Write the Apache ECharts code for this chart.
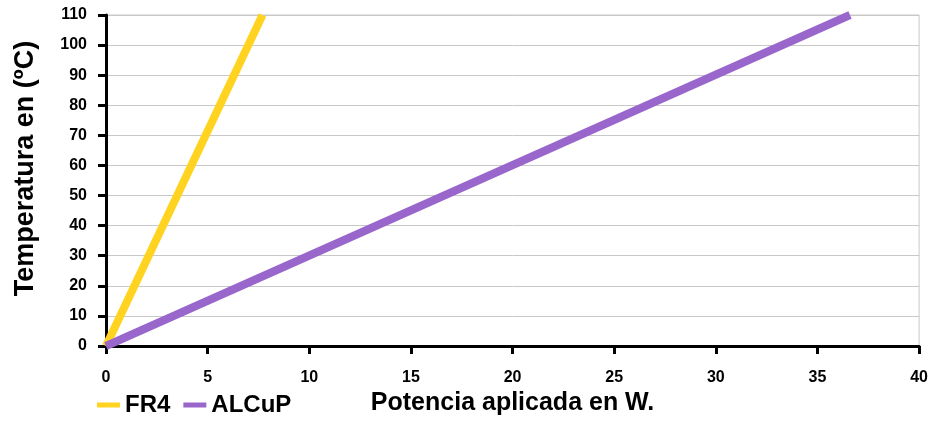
<!DOCTYPE html>
<html>
<head>
<meta charset="utf-8">
<script src="https://cdn.jsdelivr.net/npm/echarts@6/dist/echarts.min.js"></script>
<style>
html,body{margin:0;padding:0;background:#fff;}
#c{width:931px;height:424px;}
</style>
</head>
<body>
<div id="c"></div>
<script>
const seriesNames = ["FR4", "ALCuP"];
const fr4Data = [[0, 0], [7.7, 110]];
const alcupData = [[0, 0], [36.6, 110]];
const xTicks = [0, 5, 10, 15, 20, 25, 30, 35, 40];
const yTicks = [0, 10, 20, 30, 40, 50, 60, 70, 80, 90, 100, 110];
const xTitle = "Potencia aplicada en W.";
const yTitle = "Temperatura en (ºC)";

const FONT = "'Liberation Sans', Arial, sans-serif";
const chart = echarts.init(document.getElementById('c'), null, {renderer: 'canvas'});
chart.setOption({
  animation: false,
  backgroundColor: '#ffffff',
  textStyle: {fontFamily: FONT},
  grid: {left: 106, right: 9, top: 15, bottom: 78, show: true, borderColor: '#c8c8c8', borderWidth: 1},
  legend: {
    left: 92, top: 388,
    icon: 'rect', itemWidth: 23, itemHeight: 5, itemGap: 13,
    textStyle: {fontFamily: FONT, fontWeight: 'bold', fontSize: 24, color: '#000'},
    data: seriesNames
  },
  xAxis: {
    type: 'value', min: xTicks[0], max: xTicks[xTicks.length - 1], interval: 5,
    name: xTitle, nameLocation: 'middle', nameGap: 44,
    nameTextStyle: {fontFamily: FONT, fontWeight: 'bold', fontSize: 25, color: '#000'},
    axisLine: {show: true, onZero: false, lineStyle: {color: '#000', width: 3}},
    axisTick: {show: true, length: 8, lineStyle: {color: '#000', width: 3}},
    axisLabel: {fontFamily: FONT, fontWeight: 'bold', fontSize: 16, color: '#000', margin: 24},
    splitLine: {show: false}
  },
  yAxis: {
    type: 'value', min: yTicks[0], max: yTicks[yTicks.length - 1], interval: 10,
    name: yTitle, nameLocation: 'middle', nameGap: 67, nameRotate: 90,
    nameTextStyle: {fontFamily: FONT, fontWeight: 'bold', fontSize: 27, color: '#000', padding: [0, 0, 0, 24]},
    axisLine: {show: true, lineStyle: {color: '#000', width: 3}},
    axisTick: {show: true, length: 8, lineStyle: {color: '#000', width: 3}},
    axisLabel: {fontFamily: FONT, fontWeight: 'bold', fontSize: 16, color: '#000', margin: 19},
    splitLine: {show: true, lineStyle: {color: '#c8c8c8', width: 1}}
  },
  series: [
    {name: seriesNames[0], type: 'line', data: fr4Data, symbol: 'none', z: 3,
     lineStyle: {color: '#ffd320', width: 8}, itemStyle: {color: '#ffd320'}},
    {name: seriesNames[1], type: 'line', data: alcupData, symbol: 'none', z: 4,
     lineStyle: {color: '#9966cc', width: 8}, itemStyle: {color: '#9966cc'}}
  ]
});
</script>
</body>
</html>
